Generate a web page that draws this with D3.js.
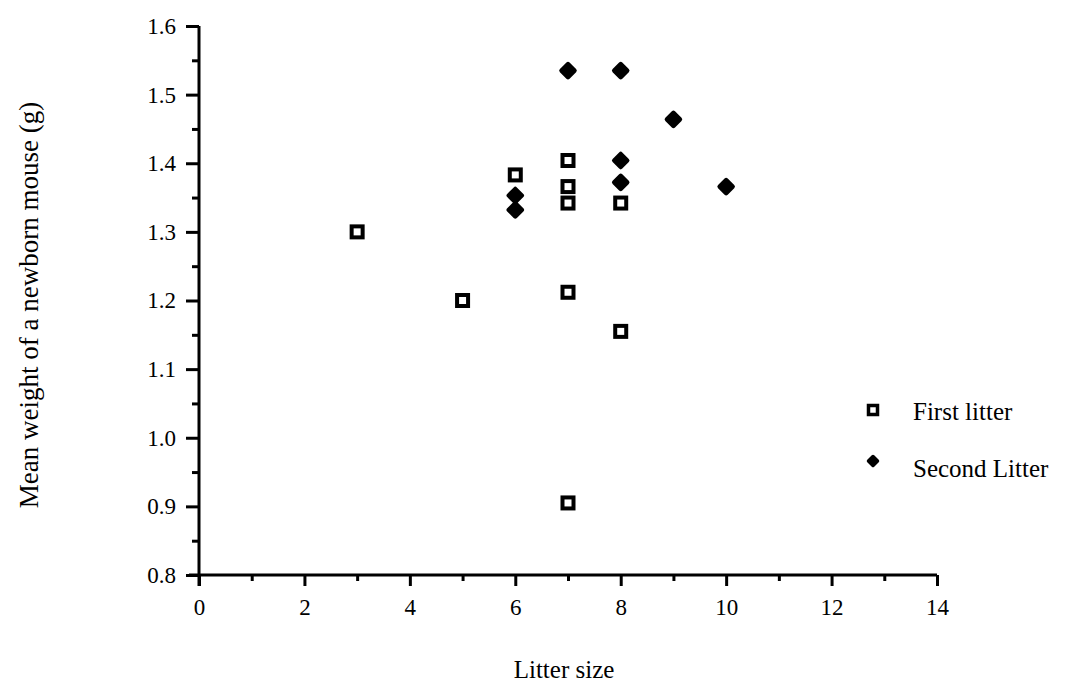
<!DOCTYPE html>
<html><head><meta charset="utf-8">
<script src="https://cdn.jsdelivr.net/npm/d3@7"></script>
<style>body{margin:0;background:#fff}svg{display:block}text{font-family:"Liberation Serif","Times New Roman",serif;fill:#000}</style>
</head><body>
<script>
const firstX = [3, 5, 6, 7, 7, 7, 7, 7, 8, 8];
const firstY = [1.30, 1.20, 1.383, 1.404, 1.366, 1.342, 1.212, 0.905, 1.342, 1.155];
const secondX = [6, 6, 7, 8, 8, 8, 9, 10];
const secondY = [1.353, 1.332, 1.535, 1.535, 1.404, 1.372, 1.464, 1.366];
const xTicks = [0, 2, 4, 6, 8, 10, 12, 14];
const yTicks = [0.8, 0.9, 1.0, 1.1, 1.2, 1.3, 1.4, 1.5, 1.6];
const seriesNames = ["First litter", "Second Litter"];

const W = 1066, H = 686;
const svg = d3.select("body").append("svg").attr("width", W).attr("height", H);
const x = d3.scaleLinear().domain([0, 14]).range([199, 937]);
const y = d3.scaleLinear().domain([0.8, 1.6]).range([575, 26]);
const SW = 3;

// minor ticks
const xMinor = d3.range(1, 14, 2);
const yMinor = d3.range(0, 8).map(i => 0.85 + i * 0.1);
svg.append("g").attr("transform", "translate(0,575)")
  .call(d3.axisBottom(x).tickValues(xMinor).tickSize(6).tickFormat(""))
  .call(g => g.select(".domain").remove())
  .call(g => g.selectAll("line").attr("stroke", "#000").attr("stroke-width", SW));
svg.append("g").attr("transform", "translate(199,0)")
  .call(d3.axisLeft(y).tickValues(yMinor).tickSize(7).tickFormat(""))
  .call(g => g.select(".domain").remove())
  .call(g => g.selectAll("line").attr("stroke", "#000").attr("stroke-width", SW));

// major axes
const xAxis = svg.append("g").attr("transform", "translate(0,575)")
  .call(d3.axisBottom(x).tickValues(xTicks).tickSize(11).tickSizeOuter(0).tickPadding(13).tickFormat(d3.format("d")))
  .attr("font-size", 23).attr("font-family", "Liberation Serif");
xAxis.select(".domain").attr("d", `M${x(0)-10},0H${x(14)}`).attr("stroke", "#000").attr("stroke-width", SW);
xAxis.selectAll("line").attr("stroke", "#000").attr("stroke-width", SW);
xAxis.selectAll("text").attr("font-size", 23).attr("fill", "#000");

const yAxis = svg.append("g").attr("transform", "translate(199,0)")
  .call(d3.axisLeft(y).tickValues(yTicks).tickSize(13).tickSizeOuter(0).tickPadding(10).tickFormat(d3.format(".1f")))
  .attr("font-size", 23).attr("font-family", "Liberation Serif");
yAxis.select(".domain").attr("d", `M0,${y(1.6)}V${y(0.8)+11}`).attr("stroke", "#000").attr("stroke-width", SW);
yAxis.selectAll("line").attr("stroke", "#000").attr("stroke-width", SW);
yAxis.selectAll("text").attr("font-size", 23).attr("fill", "#000");

// axis titles
svg.append("text").attr("x", 564).attr("y", 678).attr("text-anchor", "middle").attr("font-size", 25).text("Litter size");
svg.append("text").attr("transform", "translate(38,305) rotate(-90)").attr("text-anchor", "middle").attr("font-size", 27).text("Mean weight of a newborn mouse (g)");

// markers
const diamond = r => `M0,${-r}L${r},0L0,${r}L${-r},0Z`;
svg.append("g").selectAll("rect").data(firstX.map((d, i) => [d, firstY[i]])).join("rect")
  .attr("x", d => x(d[0]) - 5.5).attr("y", d => y(d[1]) - 5.5).attr("width", 11).attr("height", 11)
  .attr("fill", "#fff").attr("stroke", "#000").attr("stroke-width", 4);
svg.append("g").selectAll("path").data(secondX.map((d, i) => [d, secondY[i]])).join("path")
  .attr("transform", d => `translate(${x(d[0])},${y(d[1])})`).attr("d", diamond(6.5))
  .attr("fill", "#000").attr("stroke", "#000").attr("stroke-width", 4.5).attr("stroke-linejoin", "round");

// legend
const lg = svg.append("g");
lg.append("rect").attr("x", 868.5).attr("y", 405.5).attr("width", 9).attr("height", 9)
  .attr("fill", "#fff").attr("stroke", "#000").attr("stroke-width", 3.5);
lg.append("text").attr("x", 913).attr("y", 420).attr("font-size", 25).text(seriesNames[0]);
lg.append("path").attr("transform", "translate(873,461)").attr("d", diamond(4.5))
  .attr("fill", "#000").attr("stroke", "#000").attr("stroke-width", 3.5).attr("stroke-linejoin", "round");
lg.append("text").attr("x", 913).attr("y", 477).attr("font-size", 25).text(seriesNames[1]);
</script>
</body></html>
